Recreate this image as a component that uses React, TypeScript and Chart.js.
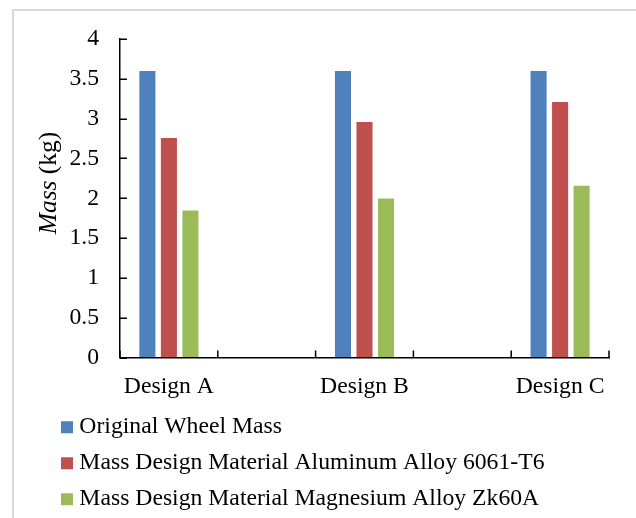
import { useEffect, useRef } from "react";
import { Chart, registerables } from "chart.js";

Chart.register(...registerables);

// Categories: the empty slots keep the wide spacing between the designs
const categories = ["Design A", "", "Design B", "", "Design C"];

const originalWheelMass = [3.61, null, 3.61, null, 3.61];
const aluminumAlloyMass = [2.77, null, 2.97, null, 3.22];
const magnesiumAlloyMass = [1.86, null, 2.01, null, 2.17];

const seriesNames = [
  "Original Wheel Mass",
  "Mass Design Material Aluminum Alloy 6061-T6",
  "Mass Design Material Magnesium Alloy Zk60A",
];
const seriesColors = ["#4F81BD", "#C0504D", "#9BBB59"];

const yMin = 0;
const yMax = 4;
const yStep = 0.5;

const titleMain = "Mass";
const titleUnit = " (kg)";

const SERIF = '"Liberation Serif", "Times New Roman", serif';
const FONT_SIZE = 23.7;

// Short tick marks pointing into the plot area
const innerTicks = {
  id: "innerTicks",
  afterDatasetsDraw(chart: any) {
    const { ctx, chartArea, scales } = chart;
    const xs = scales.x;
    const ys = scales.y;
    ctx.save();
    ctx.strokeStyle = "#000";
    ctx.lineWidth = 1.5;
    ctx.beginPath();
    ys.ticks.forEach((_: any, i: number) => {
      const py = Math.round(ys.getPixelForTick(i)) + 0.25;
      ctx.moveTo(chartArea.left, py);
      ctx.lineTo(chartArea.left + 7, py);
    });
    for (let i = 0; i <= categories.length; i++) {
      const px = xs.getPixelForValue(i - 0.5);
      ctx.moveTo(px, chartArea.bottom);
      ctx.lineTo(px, chartArea.bottom - 7);
    }
    ctx.stroke();
    ctx.restore();
  },
};

// Vertical axis title with an italic quantity and upright unit
const yTitle = {
  id: "yTitle",
  afterDraw(chart: any) {
    const ctx = chart.ctx;
    const size = 25.5;
    const italic = `italic ${size}px ${SERIF}`;
    const normal = `${size}px ${SERIF}`;
    ctx.save();
    ctx.font = italic;
    const w1 = ctx.measureText(titleMain).width;
    ctx.font = normal;
    const w2 = ctx.measureText(titleUnit).width;
    ctx.translate(56, 183);
    ctx.rotate(-Math.PI / 2);
    ctx.fillStyle = "#000";
    ctx.textBaseline = "alphabetic";
    ctx.textAlign = "left";
    const start = -(w1 + w2) / 2;
    ctx.font = italic;
    ctx.fillText(titleMain, start, 0);
    ctx.font = normal;
    ctx.fillText(titleUnit, start + w1, 0);
    ctx.restore();
  },
};

export default function App() {
  const canvasRef = useRef<HTMLCanvasElement | null>(null);

  useEffect(() => {
    const canvas = canvasRef.current;
    if (!canvas) return;
    const values = [originalWheelMass, aluminumAlloyMass, magnesiumAlloyMass];
    const chart = new Chart(canvas, {
      type: "bar",
      data: {
        labels: categories,
        datasets: values.map((data, i) => ({
          label: seriesNames[i],
          data,
          backgroundColor: seriesColors[i],
          borderColor: "#ffffff",
          borderWidth: 1,
          categoryPercentage: 0.66,
          barPercentage: 0.84,
        })),
      },
      options: {
        responsive: false,
        animation: false,
        layout: { padding: { left: 54.2, right: 27, top: 39, bottom: -3 } },
        scales: {
          x: {
            afterFit: (scale: any) => {
              scale.height -= 13;
            },
            grid: { drawOnChartArea: false, drawTicks: false },
            border: { color: "#000", width: 1.5 },
            ticks: {
              color: "#000",
              font: { family: SERIF, size: FONT_SIZE },
              padding: 15,
              maxRotation: 0,
              autoSkip: false,
            },
          },
          y: {
            min: yMin,
            max: yMax,
            afterFit: (scale: any) => {
              scale.width = 65.8;
            },
            grid: { drawOnChartArea: false, drawTicks: false },
            border: { color: "#000", width: 1.5 },
            ticks: {
              stepSize: yStep,
              color: "#000",
              font: { family: SERIF, size: FONT_SIZE },
              padding: 21,
              callback: (v: any) => String(Math.round(Number(v) * 10) / 10),
            },
          },
        },
        plugins: {
          legend: {
            position: "bottom",
            align: "start",
            labels: {
              usePointStyle: true,
              pointStyle: "rect",
              boxWidth: 1,
              boxHeight: 12,
              padding: 12.3,
              color: "#000",
              font: { family: SERIF, size: FONT_SIZE },
              generateLabels: (c: any) =>
                (Chart.defaults as any).plugins.legend.labels
                  .generateLabels(c)
                  .map((l: any) => ({ ...l, lineWidth: 0, pointStyle: "rect" })),
            },
          },
          tooltip: { enabled: false },
        },
      },
      plugins: [innerTicks, yTitle],
    });
    return () => chart.destroy();
  }, []);

  return (
    <div
      style={{
        position: "fixed",
        left: 0,
        top: 0,
        width: 636,
        height: 518,
        overflow: "hidden",
        background: "#ffffff",
      }}
    >
      <div
        style={{
          position: "absolute",
          left: 12,
          top: 9,
          width: 700,
          height: 600,
          borderLeft: "2px solid #d9d9d9",
          borderTop: "2px solid #d9d9d9",
        }}
      />
      <canvas
        ref={canvasRef}
        width={636}
        height={518}
        style={{ position: "absolute", left: 0, top: 0, width: 636, height: 518 }}
      />
    </div>
  );
}
